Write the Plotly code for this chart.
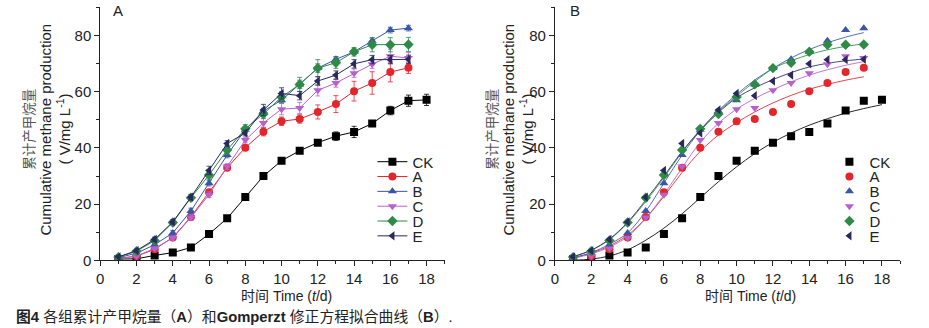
import plotly.graph_objects as go

# ---------------- data ----------------
days_ck = list(range(1, 19))
days = list(range(1, 18))

ck = [0.5, 0.6, 1.8, 2.8, 4.6, 9.4, 15.0, 22.6, 30.0, 35.5, 39.0, 41.9, 44.2, 45.7, 48.7, 53.3, 56.8, 57.1]
a  = [0.8, 1.5, 4.0, 8.2, 15.5, 24.3, 33.0, 40.1, 45.8, 49.5, 50.3, 52.8, 55.6, 60.2, 63.1, 67.0, 68.5]
b  = [1.0, 2.6, 5.6, 9.8, 17.6, 27.5, 37.5, 46.5, 53.1, 57.0, 62.6, 68.4, 71.5, 74.2, 78.1, 81.9, 82.6]
c  = [0.6, 1.6, 4.3, 8.0, 15.3, 23.4, 33.4, 42.8, 48.9, 53.8, 54.2, 60.5, 63.1, 66.6, 69.8, 72.6, 72.0]
d  = [1.2, 3.3, 7.1, 13.5, 22.3, 30.4, 39.3, 46.8, 52.1, 58.1, 62.6, 68.4, 70.3, 74.2, 76.7, 76.7, 76.8]
e  = [1.3, 3.5, 7.5, 13.7, 22.5, 32.0, 41.6, 45.3, 53.5, 59.4, 58.6, 63.8, 65.9, 69.9, 71.4, 71.4, 71.5]

ck_err = [0.3, 0.3, 0.5, 0.5, 0.5, 0.6, 0.8, 1.0, 1.0, 1.0, 1.0, 1.0, 1.5, 2.0, 1.0, 1.5, 2.0, 2.0]
a_err  = [0.3, 0.5, 0.5, 0.8, 1.0, 1.0, 1.0, 1.0, 1.5, 1.5, 1.5, 2.5, 3.0, 3.5, 4.0, 3.5, 2.0]
b_err  = [0.3, 0.5, 0.5, 0.8, 1.0, 1.0, 1.0, 1.0, 1.0, 1.0, 1.5, 1.5, 1.0, 1.0, 1.0, 1.0, 1.0]
c_err  = [0.3, 0.5, 0.5, 0.8, 1.0, 1.0, 1.0, 1.0, 1.5, 2.0, 2.0, 2.0, 1.5, 1.5, 1.5, 2.5, 2.0]
d_err  = [0.3, 0.5, 0.5, 0.8, 1.0, 1.5, 1.5, 1.5, 1.5, 2.0, 2.5, 3.0, 2.0, 1.5, 2.5, 2.5, 2.5]
e_err  = [0.3, 0.5, 0.8, 0.8, 1.0, 1.5, 1.0, 1.0, 2.0, 2.0, 1.5, 1.5, 1.5, 1.5, 1.5, 1.5, 1.5]

# fitted (modified Gompertz) curves
ck_fit = [0.1, 0.5, 1.6, 3.8, 7.2, 11.5, 16.6, 22.3, 28.0, 33.3, 38.0, 42.0, 45.3, 48.1, 50.4, 52.4, 54.0, 55.4]
a_fit  = [1.0, 2.6, 5.2, 9.0, 15.0, 22.8, 31.3, 38.8, 44.6, 49.0, 52.8, 56.0, 58.7, 60.9, 62.6, 64.1, 65.3]
b_fit  = [1.0, 2.8, 5.8, 9.8, 17.5, 27.5, 37.5, 46.2, 53.3, 59.0, 64.2, 68.3, 72.0, 75.0, 77.4, 79.4, 81.0]
c_fit  = [0.8, 2.3, 4.8, 8.5, 15.0, 23.4, 33.0, 42.0, 48.8, 53.8, 57.6, 60.7, 63.5, 65.9, 67.8, 69.4, 70.7]
d_fit  = [1.3, 3.6, 7.4, 13.3, 21.0, 29.5, 38.5, 46.5, 53.0, 58.4, 63.6, 68.2, 71.0, 73.2, 74.9, 76.1, 77.0]
e_fit  = [1.4, 3.7, 7.6, 13.6, 21.5, 30.0, 38.8, 46.2, 52.6, 57.8, 61.4, 64.3, 66.8, 68.8, 70.1, 71.0, 71.6]

names = ["CK", "A", "B", "C", "D", "E"]
xs = [days_ck, days, days, days, days, days]
ys = [ck, a, b, c, d, e]
errs = [ck_err, a_err, b_err, c_err, d_err, e_err]
fits = [ck_fit, a_fit, b_fit, c_fit, d_fit, e_fit]

x_ticks = [0, 2, 4, 6, 8, 10, 12, 14, 16, 18]
y_ticks = [0, 20, 40, 60, 80]

# ---------------- style ----------------
colors = ["#000000", "#e3262c", "#3a55a6", "#b860cc", "#2f8a47", "#28295e"]
symbols = ["square", "circle", "triangle-up", "triangle-down", "diamond", "triangle-left"]
FONT = "Arial, Liberation Sans, sans-serif"
W, H = 929, 328
MS = 8

fig = go.Figure()

# panel A: data with error bars
for i in range(6):
    fig.add_trace(go.Scatter(
        x=xs[i], y=ys[i], name=names[i], mode="lines+markers",
        line=dict(color=colors[i], width=1),
        marker=dict(symbol=symbols[i], size=MS, color=colors[i], line=dict(width=0)),
        error_y=dict(type="data", array=errs[i], visible=True, color=colors[i],
                     thickness=0.8, width=2.5),
        xaxis="x", yaxis="y", legend="legend" if i == 0 else f"legend{i + 1}",
    ))

# panel B: fitted curves + points
for i in range(6):
    fig.add_trace(go.Scatter(
        x=xs[i], y=fits[i], mode="lines", line=dict(color=colors[i], width=1, shape="spline"),
        opacity=0.85, showlegend=False, xaxis="x2", yaxis="y2", hoverinfo="skip",
    ))
for i in range(6):
    fig.add_trace(go.Scatter(
        x=xs[i], y=ys[i], name=names[i], mode="markers",
        marker=dict(symbol=symbols[i], size=MS, color=colors[i], line=dict(width=0)),
        xaxis="x2", yaxis="y2", legend=f"legend{i + 7}",
    ))

# axes
def pxx(p):
    return p / W

def pyy(p):
    return 1 - p / H

axis_common = dict(
    showline=True, linecolor="#222", linewidth=1, ticks="outside", ticklen=5,
    tickcolor="#222", tickwidth=1, showgrid=False, zeroline=False,
    tickfont=dict(family=FONT, size=15, color="#222"),
)
ydom = [pyy(267), pyy(7.5)]
fig.update_layout(
    xaxis=dict(domain=[pxx(96.7), pxx(442.6)], range=[0, 19], tickvals=x_ticks,
               minor=dict(dtick=1, tick0=0, ticklen=3, ticks="outside", tickcolor="#222"),
               anchor="y", **axis_common),
    yaxis=dict(domain=ydom, range=[0, 90], tickvals=y_ticks,
               minor=dict(dtick=10, tick0=0, ticklen=3, ticks="outside", tickcolor="#222"),
               anchor="x", **axis_common),
    xaxis2=dict(domain=[pxx(553.3), pxx(900)], range=[0, 19], tickvals=x_ticks,
                minor=dict(dtick=1, tick0=0, ticklen=3, ticks="outside", tickcolor="#222"),
                anchor="y2", **axis_common),
    yaxis2=dict(domain=ydom, range=[0, 90], tickvals=y_ticks,
                minor=dict(dtick=10, tick0=0, ticklen=3, ticks="outside", tickcolor="#222"),
                anchor="x2", **axis_common),
)

# legends (one per entry to control spacing)
leg_y = [166, 181.2, 196.4, 211.6, 226.8, 242]
for i in range(6):
    key = "legend" if i == 0 else f"legend{i + 1}"
    fig.update_layout({key: dict(x=pxx(370), y=pyy(leg_y[i]), xanchor="left", yanchor="middle",
                                 bgcolor="rgba(0,0,0,0)", borderwidth=0,
                                 font=dict(family=FONT, size=15, color="#222"),
                                 itemwidth=30, tracegroupgap=0)})
    fig.update_layout({f"legend{i + 7}": dict(x=pxx(829), y=pyy(leg_y[i]), xanchor="left",
                                              yanchor="middle", bgcolor="rgba(0,0,0,0)",
                                              borderwidth=0,
                                              font=dict(family=FONT, size=15, color="#222"),
                                              itemwidth=30, tracegroupgap=0)})

TFONT = "Arial, Liberation Sans, Noto Sans CJK SC"
annotations = []
for off, lab, lx in [(0, "A", 114), (465, "B", 573)]:
    annotations += [
        dict(text="累计产甲烷量", x=pxx(off + 24), y=pyy(132), textangle=-90,
             font=dict(family="Noto Sans CJK SC", size=13.5, color="#555")),
        dict(text="Cumulative methane production", x=pxx(off + 42), y=pyy(133), textangle=-90,
             font=dict(family=FONT, size=15, color="#222")),
        dict(text="( V/mg L<sup>-1</sup>)", x=pxx(off + 60), y=pyy(132), textangle=-90,
             font=dict(family=FONT, size=15, color="#222")),
        dict(text=lab, x=pxx(lx), y=pyy(11), font=dict(family=FONT, size=15, color="#222")),
    ]
annotations += [
    dict(text="时间 Time (<i>t</i>/d)", x=pxx(284), y=pyy(303),
         font=dict(family=TFONT, size=14, color="#222")),
    dict(text="时间 Time (<i>t</i>/d)", x=pxx(750), y=pyy(303),
         font=dict(family=TFONT, size=14, color="#222")),
    dict(text="<b>图4</b> 各组累计产甲烷量（<b>A</b>）和<b>Gomperzt</b> 修正方程拟合曲线（<b>B</b>）.",
         x=pxx(10), y=pyy(324.5), xanchor="left",
         font=dict(family=TFONT, size=14.8, color="#222")),
]
for an in annotations:
    an.setdefault("xanchor", "center")
    an.update(xref="paper", yref="paper", yanchor="middle", showarrow=False)

fig.update_layout(
    annotations=annotations,
    width=W, height=H, autosize=False,
    margin=dict(l=0, r=0, t=0, b=0),
    paper_bgcolor="white", plot_bgcolor="white",
    font=dict(family=FONT, color="#222"),
)

fig.write_html("out.html")
